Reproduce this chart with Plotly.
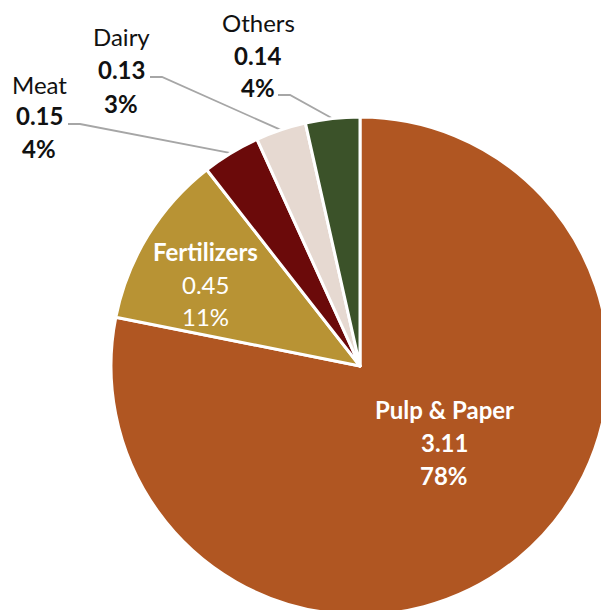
import math
import plotly.graph_objects as go

# ---- data ----
categories = ["Pulp & Paper", "Fertilizers", "Meat", "Dairy", "Others"]
values = [3.11, 0.45, 0.15, 0.13, 0.14]
colors = ["#B05622", "#B89334", "#6B0A0A", "#E6D9D1", "#3B5229"]

# figure is a little larger than the 601x610 window so the pie bleeds off the right/bottom edges
W, H = 609, 615
OFF = 0
# pie domain in screen pixels (left, top, right, bottom)
DOM = (111, 117, 609, 615)

# label layout (screen pixels): centre x, first-line y, line gap, inside?, bold flags (name, value, pct)
label_pos = {
    "Pulp & Paper": (444, 409, 33.5, True, (True, True, True)),
    "Fertilizers": (206, 252, 32, True, (True, False, False)),
    "Meat": (39, 84, 32, False, (False, True, True)),
    "Dairy": (121, 36, 33.5, False, (False, True, True)),
    "Others": (258, 23, 32.5, False, (False, True, True)),
}
# leader line start points (screen pixels) for outside labels
leader_start = {"Meat": (68, 124), "Dairy": (150, 77), "Others": (278, 95)}
leader_knee = 12

def px(x):
    return (x - OFF) / W

def py(y):
    return 1 - (y - OFF) / H

total = sum(values)
pcts = [round(v / total * 100) for v in values]

fig = go.Figure(go.Pie(
    labels=categories, values=values, sort=False, direction="clockwise", rotation=0,
    marker=dict(colors=colors, line=dict(color="white", width=3)),
    textinfo="none", hoverinfo="label+value+percent",
    domain=dict(x=[px(DOM[0]), min(1, px(DOM[2]))], y=[max(0, py(DOM[3])), py(DOM[1])]),
    showlegend=False,
))

annotations = []
shapes = []
for cat, v, p in zip(categories, values, pcts):
    cx, y0, gap, inside, bold = label_pos[cat]
    lines = [cat, f"{v:.2f}", f"{p}%"]
    col = "white" if inside else "#111111"
    for i, (t, b) in enumerate(zip(lines, bold)):
        annotations.append(dict(
            x=px(cx), y=py(y0 + i * gap), xref="paper", yref="paper",
            text=f"<b>{t}</b>" if b else t, showarrow=False,
            xanchor="center", yanchor="middle",
            font=dict(family="Lato", size=24, color=col),
        ))

# pie geometry (screen pixels)
dw = DOM[2] - DOM[0]
dh = DOM[3] - DOM[1]
r = min(dw, dh) / 2
pcx = DOM[0] + dw / 2
pcy = DOM[1] + dh / 2
cum = 0
for cat, v in zip(categories, values):
    mid = (cum + v / 2) / total * 2 * math.pi
    cum += v
    if cat in leader_start:
        sx, sy = leader_start[cat]
        ex = pcx + r * math.sin(mid)
        ey = pcy - r * math.cos(mid)
        path = f"M {px(sx)} {py(sy)} L {px(sx + leader_knee)} {py(sy)} L {px(ex)} {py(ey)}"
        shapes.append(dict(type="path", path=path, xref="paper", yref="paper",
                           line=dict(color="#A6A6A6", width=1.8), layer="below"))

fig.update_layout(
    width=W, height=H, autosize=False,
    margin=dict(l=0, r=0, t=0, b=0),
    paper_bgcolor="white", plot_bgcolor="white",
    annotations=annotations, shapes=shapes,
    font=dict(family="Lato"),
)

fig.write_html(
    "out.html",
    config={"displayModeBar": False},
    post_script=(
        "document.body.style.margin='0';"
        "document.body.style.overflow='hidden';"
        "document.documentElement.style.overflow='hidden';"
    ),
)
